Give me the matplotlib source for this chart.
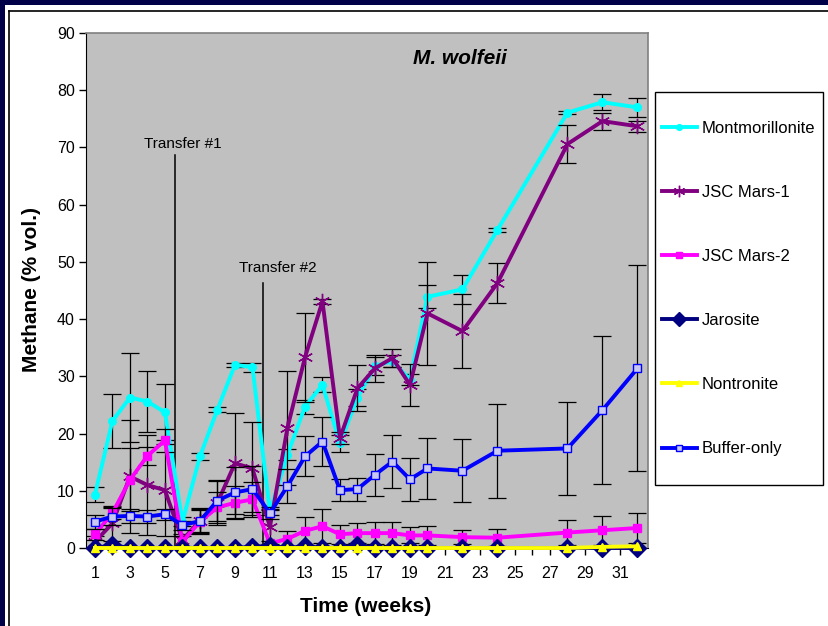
import matplotlib
matplotlib.use("Agg")
import matplotlib.pyplot as plt
from matplotlib.lines import Line2D
from matplotlib.patches import Rectangle

plt.rcParams['font.family'] = ['Liberation Sans', 'DejaVu Sans']

weeks = [1, 2, 3, 4, 5, 6, 7, 8, 9, 10, 11, 12, 13, 14, 15, 16, 17, 18, 19, 20, 22, 24, 28, 30, 32]

montmorillonite = [9.3, 22.2, 26.3, 25.6, 23.7, 4.6, 16.0, 24.2, 32.0, 31.6, 6.3, 16.3, 24.7, 28.5, 18.3,
                   26.3, 31.8, 32.7, 29.4, 43.9, 45.2, 55.6, 76.1, 77.9, 77.0]
montmorillonite_err = [1.3, 4.7, 7.8, 5.4, 4.9, 0.8, 0.6, 0.5, 0.3, 0.8, 0.6, 1.0, 1.2, 1.3, 1.5,
                       1.5, 1.5, 1.0, 1.0, 2.0, 2.5, 0.4, 0.3, 1.4, 1.7]

jsc_mars1 = [1.1, 4.3, 12.5, 11.0, 10.1, 1.4, 4.8, 7.9, 14.8, 13.9, 3.7, 21.0, 33.3, 43.1, 19.2,
             27.9, 31.4, 33.2, 28.5, 41.0, 37.9, 46.3, 70.6, 74.6, 73.7]
jsc_mars1_err = [1.0, 3.0, 9.8, 8.8, 8.0, 1.0, 2.0, 3.8, 8.8, 8.2, 3.0, 10.0, 7.7, 0.5, 1.0,
                 4.0, 2.4, 1.5, 3.7, 9.0, 6.5, 3.5, 3.3, 1.5, 1.0]

jsc_mars2 = [2.4, 6.1, 11.9, 16.1, 18.8, 1.1, 4.6, 7.1, 7.9, 8.5, 0.8, 1.6, 3.0, 3.8, 2.4,
             2.6, 2.6, 2.6, 2.2, 2.2, 1.9, 1.8, 2.7, 3.1, 3.5]
jsc_mars2_err = [1.0, 1.1, 5.5, 1.6, 2.0, 1.0, 2.0, 2.7, 2.9, 3.0, 0.5, 1.4, 2.5, 3.0, 1.7,
                 1.8, 1.9, 2.0, 1.4, 1.6, 1.2, 1.5, 2.2, 2.5, 2.7]

jarosite = [0.0, 0.5, 0.0, 0.0, 0.0, 0.0, 0.0, 0.0, 0.0, 0.2, 0.4, 0.0, 0.3, 0.0, 0.0,
            0.5, 0.0, 0.0, 0.0, 0.0, 0.0, 0.0, 0.0, 0.0, 0.0]

nontronite = [0.0, 0.0, 0.0, 0.0, 0.0, 0.0, 0.0, 0.0, 0.0, 0.0, 0.0, 0.0, 0.0, 0.0, 0.0,
              0.0, 0.0, 0.0, 0.0, 0.0, 0.0, 0.0, 0.0, 0.2, 0.3]

buffer_only = [4.6, 5.5, 5.6, 5.5, 5.9, 4.0, 4.7, 8.3, 9.7, 10.3, 6.1, 10.8, 16.0, 18.6, 10.1,
               10.3, 12.8, 15.1, 12.0, 13.9, 13.5, 17.0, 17.4, 24.1, 31.4]
buffer_only_err = [1.2, 1.5, 1.2, 1.2, 1.0, 0.8, 2.3, 3.5, 4.5, 4.0, 1.0, 3.0, 3.5, 4.3, 1.9,
                   2.0, 3.7, 4.7, 3.8, 5.3, 5.5, 8.2, 8.2, 13.0, 18.0]

transfer_weeks = [5.6, 10.6]
transfer_tops = [68.7, 46.3]
transfer_labels = ["Transfer #1", "Transfer #2"]

W, H = 829, 626
fig = plt.figure(figsize=(W / 100, H / 100), dpi=100)
fig.patch.set_facecolor('white')

# outer frame decoration
navy = '#000048'
fig.add_artist(Rectangle((0, 1 - 5 / H), 1, 5 / H, transform=fig.transFigure, color=navy, lw=0))
fig.add_artist(Rectangle((0, 0), 5 / W, 1, transform=fig.transFigure, color=navy, lw=0))
fig.add_artist(Line2D([9.5 / W, 1], [1 - 10.5 / H, 1 - 10.5 / H], transform=fig.transFigure, color='black', lw=1.2))
fig.add_artist(Line2D([9.5 / W, 9.5 / W], [0, 1 - 10.5 / H], transform=fig.transFigure, color='black', lw=1.2))

ax = fig.add_axes([86 / W, 78 / H, (648 - 86) / W, (548 - 33) / H])
ax.set_facecolor('#C0C0C0')
ax.set_xlim(0.49, 32.6)
ax.set_ylim(0, 90)

eb_kw = dict(ecolor='black', elinewidth=0.9, capsize=6.5, capthick=0.9)

series = [
    ("Montmorillonite", montmorillonite, montmorillonite_err,
     dict(color='#00FFFF', marker='o', markersize=5.5, mfc='#00FFFF', mec='#00FFFF')),
    ("JSC Mars-1", jsc_mars1, jsc_mars1_err,
     dict(color='#800080', marker=(6, 2, 0), markersize=11, mec='#800080', mew=1.0)),
    ("JSC Mars-2", jsc_mars2, jsc_mars2_err,
     dict(color='#FF00FF', marker='s', markersize=5.5, mfc='#FF00FF', mec='#FF00FF')),
    ("Jarosite", jarosite, None,
     dict(color='#000080', marker='D', markersize=9.5, mfc='#000080', mec='#000080')),
    ("Nontronite", nontronite, None,
     dict(color='#FFFF00', marker='^', markersize=6, mfc='#FFFF00', mec='#FFFF00')),
    ("Buffer-only", buffer_only, buffer_only_err,
     dict(color='#0000FF', marker='s', markersize=6, mfc='#C8C8F0', mec='#0000FF', mew=1.0)),
]

handles = []
for i, (name, vals, err, st) in enumerate(series):
    if err is not None:
        ax.errorbar(weeks, vals, yerr=err, fmt='none', zorder=2 + i * 2, **eb_kw)
    ln, = ax.plot(weeks, vals, lw=2.8, label=name, zorder=3 + i * 2, clip_on=False, **st)
    handles.append(ln)

# transfer markers
for xw, top in zip(transfer_weeks, transfer_tops):
    ax.plot([xw, xw], [0, top], color='black', lw=1.1, zorder=1)
ax.text(6.03, 70.6, transfer_labels[0], ha='center', va='center', fontsize=11)
ax.text(11.45, 49.0, transfer_labels[1], ha='center', va='center', fontsize=11)

fig.text(460 / W, 1 - 58 / H, "M. wolfeii", ha='center', va='center', fontsize=15,
         fontweight='bold', fontstyle='italic')

# axes styling
ax.set_yticks(range(0, 91, 10))
ax.set_xticks(list(range(1, 33)))
ax.set_xticklabels([str(w) if w % 2 == 1 else '' for w in range(1, 33)])
ax.tick_params(axis='both', direction='out', length=5, width=1, colors='black', labelsize=11.5)
ax.tick_params(axis='x', pad=8)
ax.tick_params(axis='y', pad=3)
for s in ['top', 'right']:
    ax.spines[s].set_color('#808080')
    ax.spines[s].set_linewidth(1.2)
ax.spines['left'].set_color('black')
ax.spines['bottom'].set_color('black')

fig.text(32 / W, 1 - 290 / H, "Methane (% vol.)", rotation=90, ha='center', va='center',
         fontsize=15, fontweight='bold')
fig.text(366 / W, 1 - 606 / H, "Time (weeks)", ha='center', va='center',
         fontsize=15, fontweight='bold')

# legend frame and legend
fig.add_artist(Rectangle((655 / W, 1 - 485 / H), (823 - 655) / W, (485 - 92) / H,
                         transform=fig.transFigure, facecolor='white', edgecolor='black', lw=1.0, zorder=5))
leg = fig.legend(handles=handles, loc='center left', bbox_to_anchor=(655 / W, 1 - 288.5 / H),
                 frameon=False, fontsize=12, labelspacing=2.95, handlelength=2.1, handletextpad=0.3,
                 borderaxespad=0, borderpad=0.4, markerscale=0.75)
leg.set_zorder(6)

fig.savefig("out.png", dpi=100)
